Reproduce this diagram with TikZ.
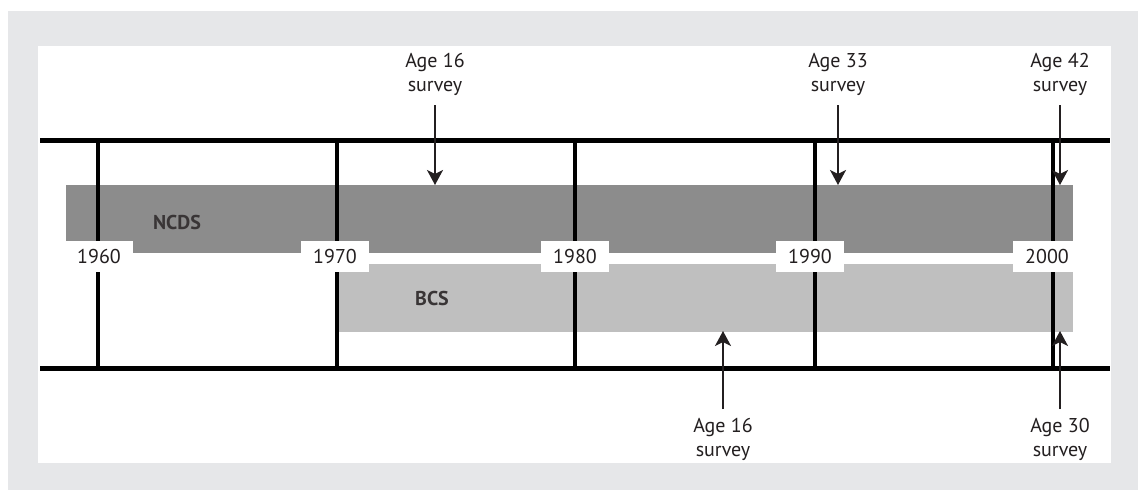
\documentclass[tikz,border=0pt]{standalone}
\usepackage{fontspec}
\setmainfont{PT Sans}
\usetikzlibrary{arrows.meta}
\definecolor{bggray}{HTML}{E6E7E9}
\definecolor{darkbar}{HTML}{8C8C8C}
\definecolor{lightbar}{HTML}{BFBFBF}
\definecolor{ink}{HTML}{231F20}
\tikzset{
  hline/.style={line width=5pt, black},
  vline/.style={line width=4pt, black},
  yearlabel/.style={fill=white, minimum width=68pt, minimum height=31pt, inner sep=0pt, font=\fontsize{20}{24}\selectfont, text=ink},
  agelabel/.style={align=center, inner sep=0pt, font=\fontsize{20}{24}\selectfont, text=ink},
  barlabel/.style={inner sep=0pt, font=\fontsize{20}{24}\selectfont\bfseries, text=ink!90},
  arr/.style={line width=1.6pt, ink, -{Stealth[length=15pt,width=16pt,inset=4pt]}}
}
\begin{document}
\begin{tikzpicture}[x=1pt,y=-1pt]
\useasboundingbox (0,0) rectangle (1138,490);
% background
\fill[bggray] (8,11) rectangle (1138,490);
\fill[white] (38,46) rectangle (1111,463);
% bars
\fill[darkbar] (66,185) rectangle (1073,253);
\fill[lightbar] (337,264) rectangle (1073,332);
\node[barlabel] (ncds) at (177,222) {NCDS};
\node[barlabel] (bcs) at (432,298) {BCS};
% axis lines
\coordinate (tl) at (40,140);
\coordinate (tr) at (1110,140);
\coordinate (bl) at (40,368);
\coordinate (br) at (1110,368);
\draw[hline] (tl) -- (tr);
\draw[hline] (bl) -- (br);
\foreach \x/\n in {98/a,337/b,575/c,815/d,1053/e}{
  \coordinate (t\n) at (\x,140);
  \coordinate (b\n) at (\x,368);
  \draw[vline] (t\n) -- (b\n);
}
% year labels
\node[yearlabel] (y1960) at (99,256) {1960};
\node[yearlabel] (y1970) at (335,256) {1970};
\node[yearlabel] (y1980) at (575,256) {1980};
\node[yearlabel] (y1990) at (810,256) {1990};
\node[yearlabel] (y2000) at (1047,256) {2000};
% top survey labels
\node[agelabel] (n16) at (435,74) {Age 16\\survey};
\node[agelabel] (n33) at (838,74) {Age 33\\survey};
\node[agelabel] (n42) at (1060,74) {Age 42\\survey};
\coordinate (n16s) at (435,105);
\coordinate (n16t) at (435,185);
\coordinate (n33s) at (838,105);
\coordinate (n33t) at (838,185);
\coordinate (n42s) at (1060,105);
\coordinate (n42t) at (1060,185);
\draw[arr] (n16s) -- (n16t);
\draw[arr] (n33s) -- (n33t);
\draw[arr] (n42s) -- (n42t);
% bottom survey labels
\node[agelabel] (b16) at (723,439) {Age 16\\survey};
\node[agelabel] (b30) at (1060,439) {Age 30\\survey};
\coordinate (b16s) at (723,409);
\coordinate (b16t) at (723,331);
\coordinate (b30s) at (1060,409);
\coordinate (b30t) at (1060,331);
\draw[arr] (b16s) -- (b16t);
\draw[arr] (b30s) -- (b30t);
\end{tikzpicture}
\end{document}
